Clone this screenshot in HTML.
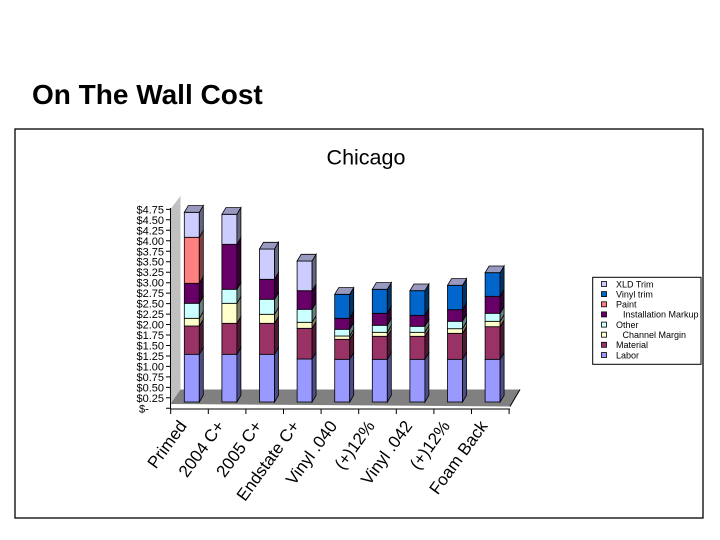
<!DOCTYPE html>
<html><head><meta charset="utf-8"><style>
html,body{margin:0;padding:0;background:#fff;}
svg{display:block;font-family:"Liberation Sans",Arial,sans-serif;}
.s{stroke:#000;stroke-width:0.8;}
.lab{fill:#9999ff}.labS{fill:#4d4d88}
.mat{fill:#993366}.matS{fill:#4d1a33}
.ch{fill:#ffffcc}.chS{fill:#808066}
.oth{fill:#ccffff}.othS{fill:#668080}
.ins{fill:#660066}.insS{fill:#330033}
.pai{fill:#ff8080}.paiS{fill:#804040}
.vin{fill:#0066cc}.vinS{fill:#003366}
.xld{fill:#ccccff}.xldS{fill:#666680}
.top{fill:#9999c0}
</style></head><body>
<svg width="720" height="540" viewBox="0 0 720 540" xmlns="http://www.w3.org/2000/svg">
<text x="32" y="104" font-size="28" font-weight="bold">On The Wall Cost</text>
<rect x="15" y="129" width="688" height="389" fill="#fff" stroke="#000" stroke-width="1.3"/>
<text x="366" y="164.5" font-size="21.5" text-anchor="middle">Chicago</text>

<!-- wall and floor -->
<polygon points="170.5,406 170.5,209 180.5,196 180.5,389.5" fill="#c0c0c0"/>
<polygon points="170.5,404 510,406.5 520,389.5 180.5,389.5" fill="#808080"/>
<line x1="510" y1="406.5" x2="520" y2="389.5" stroke="#000" stroke-width="1"/>

<!-- axes -->
<g stroke="#000" stroke-width="1" fill="none">
<path d="M170.5 208V409H510"/>
<path d="M166 408.3H170M166 397.8H170M166 387.4H170M166 376.9H170M166 366.4H170M166 356H170M166 345.5H170M166 335H170M166 324.5H170M166 314.1H170M166 303.6H170M166 293.1H170M166 282.7H170M166 272.2H170M166 261.7H170M166 251.3H170M166 240.8H170M166 230.3H170M166 219.8H170M166 209.4H170"/>
<path d="M170.7 409V414M208.3 409V414M245.9 409V414M283.5 409V414M321.1 409V414M358.7 409V414M396.3 409V414M433.9 409V414M471.5 409V414M509.1 409V414"/>
</g>
<g font-size="11" text-anchor="end">
<text x="164" y="401.8">$0.25</text><text x="164" y="391.4">$0.50</text><text x="164" y="380.9">$0.75</text>
<text x="164" y="370.4">$1.00</text><text x="164" y="360">$1.25</text><text x="164" y="349.5">$1.50</text>
<text x="164" y="339">$1.75</text><text x="164" y="328.5">$2.00</text><text x="164" y="318.1">$2.25</text>
<text x="164" y="307.6">$2.50</text><text x="164" y="297.1">$2.75</text><text x="164" y="286.7">$3.00</text>
<text x="164" y="276.2">$3.25</text><text x="164" y="265.7">$3.50</text><text x="164" y="255.3">$3.75</text>
<text x="164" y="244.8">$4.00</text><text x="164" y="234.3">$4.25</text><text x="164" y="223.8">$4.50</text>
<text x="164" y="213.4">$4.75</text>
</g>
<text x="139" y="412.3" font-size="11">$-</text>

<!-- Bars -->
<g class="s">
<g transform="translate(184.3,0)">
<rect class="lab" x="0" y="354.3" width="15" height="47.7"/><polygon class="labS" points="15,402 15,354.3 19,347.6 19,395.3"/>
<rect class="mat" x="0" y="326" width="15" height="28.3"/><polygon class="matS" points="15,354.3 15,326 19,319.3 19,347.6"/>
<rect class="ch" x="0" y="318.3" width="15" height="7.7"/><polygon class="chS" points="15,326 15,318.3 19,311.6 19,319.3"/>
<rect class="oth" x="0" y="303.3" width="15" height="15"/><polygon class="othS" points="15,318.3 15,303.3 19,296.6 19,311.6"/>
<rect class="ins" x="0" y="283.3" width="15" height="20"/><polygon class="insS" points="15,303.3 15,283.3 19,276.6 19,296.6"/>
<rect class="pai" x="0" y="237.3" width="15" height="46"/><polygon class="paiS" points="15,283.3 15,237.3 19,230.6 19,276.6"/>
<rect class="xld" x="0" y="212.3" width="15" height="25"/><polygon class="xldS" points="15,237.3 15,212.3 19,205.6 19,230.6"/>
<polygon class="top" points="0,212.3 15,212.3 19,205.6 4,205.6"/>
</g>
<g transform="translate(221.9,0)">
<rect class="lab" x="0" y="354.3" width="15" height="47.7"/><polygon class="labS" points="15,402 15,354.3 19,347.6 19,395.3"/>
<rect class="mat" x="0" y="323.3" width="15" height="31"/><polygon class="matS" points="15,354.3 15,323.3 19,316.6 19,347.6"/>
<rect class="ch" x="0" y="303.3" width="15" height="20"/><polygon class="chS" points="15,323.3 15,303.3 19,296.6 19,316.6"/>
<rect class="oth" x="0" y="289.3" width="15" height="14"/><polygon class="othS" points="15,303.3 15,289.3 19,282.6 19,296.6"/>
<rect class="ins" x="0" y="244.3" width="15" height="45"/><polygon class="insS" points="15,289.3 15,244.3 19,237.6 19,282.6"/>
<rect class="xld" x="0" y="214.3" width="15" height="30"/><polygon class="xldS" points="15,244.3 15,214.3 19,207.6 19,237.6"/>
<polygon class="top" points="0,214.3 15,214.3 19,207.6 4,207.6"/>
</g>
<g transform="translate(259.5,0)">
<rect class="lab" x="0" y="354.3" width="15" height="47.7"/><polygon class="labS" points="15,402 15,354.3 19,347.6 19,395.3"/>
<rect class="mat" x="0" y="323.3" width="15" height="31"/><polygon class="matS" points="15,354.3 15,323.3 19,316.6 19,347.6"/>
<rect class="ch" x="0" y="314.3" width="15" height="9"/><polygon class="chS" points="15,323.3 15,314.3 19,307.6 19,316.6"/>
<rect class="oth" x="0" y="299.3" width="15" height="15"/><polygon class="othS" points="15,314.3 15,299.3 19,292.6 19,307.6"/>
<rect class="ins" x="0" y="279.3" width="15" height="20"/><polygon class="insS" points="15,299.3 15,279.3 19,272.6 19,292.6"/>
<rect class="xld" x="0" y="249" width="15" height="30.3"/><polygon class="xldS" points="15,279.3 15,249 19,242.3 19,272.6"/>
<polygon class="top" points="0,249 15,249 19,242.3 4,242.3"/>
</g>
<g transform="translate(297.1,0)">
<rect class="lab" x="0" y="359" width="15" height="43"/><polygon class="labS" points="15,402 15,359 19,352.3 19,395.3"/>
<rect class="mat" x="0" y="328.3" width="15" height="30.7"/><polygon class="matS" points="15,359 15,328.3 19,321.6 19,352.3"/>
<rect class="ch" x="0" y="322.3" width="15" height="6"/><polygon class="chS" points="15,328.3 15,322.3 19,315.6 19,321.6"/>
<rect class="oth" x="0" y="309.3" width="15" height="13"/><polygon class="othS" points="15,322.3 15,309.3 19,302.6 19,315.6"/>
<rect class="ins" x="0" y="290.7" width="15" height="18.6"/><polygon class="insS" points="15,309.3 15,290.7 19,284 19,302.6"/>
<rect class="xld" x="0" y="261" width="15" height="29.7"/><polygon class="xldS" points="15,290.7 15,261 19,254.3 19,284"/>
<polygon class="top" points="0,261 15,261 19,254.3 4,254.3"/>
</g>
<g transform="translate(334.7,0)">
<rect class="lab" x="0" y="359.3" width="15" height="42.7"/><polygon class="labS" points="15,402 15,359.3 19,352.6 19,395.3"/>
<rect class="mat" x="0" y="339.3" width="15" height="20"/><polygon class="matS" points="15,359.3 15,339.3 19,332.6 19,352.6"/>
<rect class="ch" x="0" y="336" width="15" height="3.3"/><polygon class="chS" points="15,339.3 15,336 19,329.3 19,332.6"/>
<rect class="oth" x="0" y="329.3" width="15" height="6.7"/><polygon class="othS" points="15,336 15,329.3 19,322.6 19,329.3"/>
<rect class="ins" x="0" y="318.3" width="15" height="11"/><polygon class="insS" points="15,329.3 15,318.3 19,311.6 19,322.6"/>
<rect class="vin" x="0" y="294.3" width="15" height="24"/><polygon class="vinS" points="15,318.3 15,294.3 19,287.6 19,311.6"/>
<polygon class="top" points="0,294.3 15,294.3 19,287.6 4,287.6"/>
</g>
<g transform="translate(372.3,0)">
<rect class="lab" x="0" y="359.3" width="15" height="42.7"/><polygon class="labS" points="15,402 15,359.3 19,352.6 19,395.3"/>
<rect class="mat" x="0" y="336.3" width="15" height="23"/><polygon class="matS" points="15,359.3 15,336.3 19,329.6 19,352.6"/>
<rect class="ch" x="0" y="332.3" width="15" height="4"/><polygon class="chS" points="15,336.3 15,332.3 19,325.6 19,329.6"/>
<rect class="oth" x="0" y="325.3" width="15" height="7"/><polygon class="othS" points="15,332.3 15,325.3 19,318.6 19,325.6"/>
<rect class="ins" x="0" y="313.3" width="15" height="12"/><polygon class="insS" points="15,325.3 15,313.3 19,306.6 19,318.6"/>
<rect class="vin" x="0" y="289.3" width="15" height="24"/><polygon class="vinS" points="15,313.3 15,289.3 19,282.6 19,306.6"/>
<polygon class="top" points="0,289.3 15,289.3 19,282.6 4,282.6"/>
</g>
<g transform="translate(409.9,0)">
<rect class="lab" x="0" y="359.3" width="15" height="42.7"/><polygon class="labS" points="15,402 15,359.3 19,352.6 19,395.3"/>
<rect class="mat" x="0" y="336.3" width="15" height="23"/><polygon class="matS" points="15,359.3 15,336.3 19,329.6 19,352.6"/>
<rect class="ch" x="0" y="332.3" width="15" height="4"/><polygon class="chS" points="15,336.3 15,332.3 19,325.6 19,329.6"/>
<rect class="oth" x="0" y="326.3" width="15" height="6"/><polygon class="othS" points="15,332.3 15,326.3 19,319.6 19,325.6"/>
<rect class="ins" x="0" y="315.3" width="15" height="11"/><polygon class="insS" points="15,326.3 15,315.3 19,308.6 19,319.6"/>
<rect class="vin" x="0" y="290.7" width="15" height="24.6"/><polygon class="vinS" points="15,315.3 15,290.7 19,284 19,308.6"/>
<polygon class="top" points="0,290.7 15,290.7 19,284 4,284"/>
</g>
<g transform="translate(447.5,0)">
<rect class="lab" x="0" y="359.3" width="15" height="42.7"/><polygon class="labS" points="15,402 15,359.3 19,352.6 19,395.3"/>
<rect class="mat" x="0" y="333.3" width="15" height="26"/><polygon class="matS" points="15,359.3 15,333.3 19,326.6 19,352.6"/>
<rect class="ch" x="0" y="328.7" width="15" height="4.6"/><polygon class="chS" points="15,333.3 15,328.7 19,322 19,326.6"/>
<rect class="oth" x="0" y="321.3" width="15" height="7.4"/><polygon class="othS" points="15,328.7 15,321.3 19,314.6 19,322"/>
<rect class="ins" x="0" y="309.7" width="15" height="11.6"/><polygon class="insS" points="15,321.3 15,309.7 19,303 19,314.6"/>
<rect class="vin" x="0" y="285.3" width="15" height="24.4"/><polygon class="vinS" points="15,309.7 15,285.3 19,278.6 19,303"/>
<polygon class="top" points="0,285.3 15,285.3 19,278.6 4,278.6"/>
</g>
<g transform="translate(485.1,0)">
<rect class="lab" x="0" y="359.3" width="15" height="42.7"/><polygon class="labS" points="15,402 15,359.3 19,352.6 19,395.3"/>
<rect class="mat" x="0" y="326.7" width="15" height="32.6"/><polygon class="matS" points="15,359.3 15,326.7 19,320 19,352.6"/>
<rect class="ch" x="0" y="321.3" width="15" height="5.4"/><polygon class="chS" points="15,326.7 15,321.3 19,314.6 19,320"/>
<rect class="oth" x="0" y="313.3" width="15" height="8"/><polygon class="othS" points="15,321.3 15,313.3 19,306.6 19,314.6"/>
<rect class="ins" x="0" y="296.3" width="15" height="17"/><polygon class="insS" points="15,313.3 15,296.3 19,289.6 19,306.6"/>
<rect class="vin" x="0" y="272.7" width="15" height="23.6"/><polygon class="vinS" points="15,296.3 15,272.7 19,266 19,289.6"/>
<polygon class="top" points="0,272.7 15,272.7 19,266 4,266"/>
</g>
</g>

<!-- X labels -->
<g font-size="17" text-anchor="end">
<text transform="translate(187.5,426) rotate(-54)">Primed</text>
<text transform="translate(225.1,426) rotate(-54)">2004 C+</text>
<text transform="translate(262.7,426) rotate(-54)">2005 C+</text>
<text transform="translate(300.3,426) rotate(-54)">Endstate C+</text>
<text transform="translate(337.9,426) rotate(-54)">Vinyl .040</text>
<text transform="translate(375.5,426) rotate(-54)">(+)12%</text>
<text transform="translate(413.1,426) rotate(-54)">Vinyl .042</text>
<text transform="translate(450.7,426) rotate(-54)">(+)12%</text>
<text transform="translate(488.3,426) rotate(-54)">Foam Back</text>
</g>

<!-- Legend -->
<rect x="592.7" y="277.3" width="108.3" height="87" fill="#fff" stroke="#000" stroke-width="1"/>
<g stroke="#000" stroke-width="0.8">
<rect class="xld" x="601.5" y="281.5" width="5" height="5"/>
<rect class="vin" x="601.5" y="291.6" width="5" height="5"/>
<rect class="pai" x="601.5" y="301.8" width="5" height="5"/>
<rect class="ins" x="601.5" y="311.9" width="5" height="5"/>
<rect class="oth" x="601.5" y="322.1" width="5" height="5"/>
<rect class="ch" x="601.5" y="332.2" width="5" height="5"/>
<rect class="mat" x="601.5" y="342.3" width="5" height="5"/>
<rect class="lab" x="601.5" y="352.5" width="5" height="5"/>
</g>
<g font-size="9">
<text x="616" y="287.3">XLD Trim</text>
<text x="616" y="297.4">Vinyl trim</text>
<text x="616" y="307.6">Paint</text>
<text x="623" y="317.7">Installation Markup</text>
<text x="616" y="327.9">Other</text>
<text x="622.5" y="338">Channel Margin</text>
<text x="616" y="348.1">Material</text>
<text x="616" y="358.3">Labor</text>
</g>
</svg>
</body></html>
